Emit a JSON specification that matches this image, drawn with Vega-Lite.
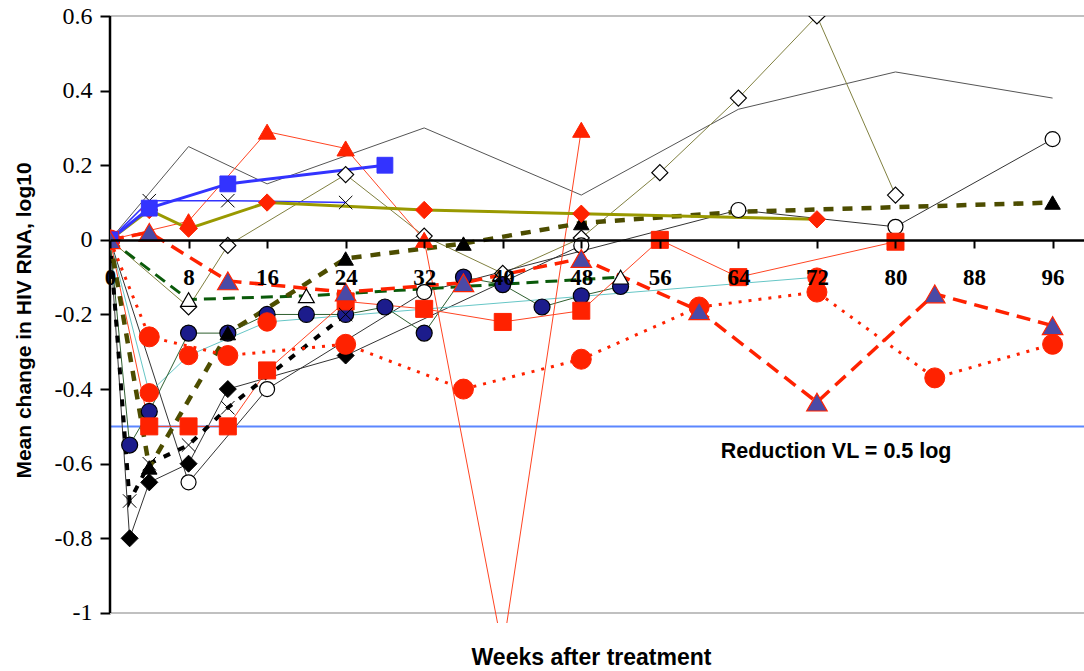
{
  "$schema": "https://vega.github.io/schema/vega-lite/v6.json",
  "width": 974,
  "height": 607,
  "autosize": "none",
  "padding": {"left": 110, "top": 16, "right": 0, "bottom": 48},
  "background": "white",
  "config": {"view": {"stroke": null}},
  "resolve": {"axis": {"x": "independent", "y": "independent"}},
  "datasets": {
    "series": [
      {"s":"grey","w":0,"v":0},{"s":"grey","w":8,"v":0.25},{"s":"grey","w":16,"v":0.15},{"s":"grey","w":32,"v":0.3},{"s":"grey","w":48,"v":0.12},{"s":"grey","w":64,"v":0.35},{"s":"grey","w":80,"v":0.45},{"s":"grey","w":96,"v":0.38},
      {"s":"odiam","w":0,"v":0},{"s":"odiam","w":8,"v":-0.18},{"s":"odiam","w":12,"v":-0.015},{"s":"odiam","w":24,"v":0.175},{"s":"odiam","w":32,"v":0.01},{"s":"odiam","w":40,"v":-0.09},{"s":"odiam","w":48,"v":0.005},{"s":"odiam","w":56,"v":0.18},{"s":"odiam","w":64,"v":0.38},{"s":"odiam","w":72,"v":0.6},{"s":"odiam","w":80,"v":0.12},
      {"s":"ocir","w":0,"v":0},{"s":"ocir","w":8,"v":-0.65},{"s":"ocir","w":16,"v":-0.4},{"s":"ocir","w":32,"v":-0.14},{"s":"ocir","w":64,"v":0.08},{"s":"ocir","w":80,"v":0.035},{"s":"ocir","w":96,"v":0.27},
      {"s":"kdia","w":0,"v":0},{"s":"kdia","w":2,"v":-0.8},{"s":"kdia","w":4,"v":-0.65},{"s":"kdia","w":8,"v":-0.6},{"s":"kdia","w":12,"v":-0.4},{"s":"kdia","w":24,"v":-0.31},{"s":"kdia","w":48,"v":-0.015},
      {"s":"cyan","w":0,"v":0},{"s":"cyan","w":4,"v":-0.41},{"s":"cyan","w":8,"v":-0.31},{"s":"cyan","w":16,"v":-0.22},{"s":"cyan","w":72,"v":-0.1},
      {"s":"navy","w":0,"v":0},{"s":"navy","w":2,"v":-0.55},{"s":"navy","w":4,"v":-0.46},{"s":"navy","w":8,"v":-0.25},{"s":"navy","w":12,"v":-0.25},{"s":"navy","w":16,"v":-0.2},{"s":"navy","w":20,"v":-0.2},{"s":"navy","w":24,"v":-0.2},{"s":"navy","w":28,"v":-0.18},{"s":"navy","w":32,"v":-0.25},{"s":"navy","w":36,"v":-0.1},{"s":"navy","w":40,"v":-0.12},{"s":"navy","w":44,"v":-0.18},{"s":"navy","w":48,"v":-0.15},{"s":"navy","w":52,"v":-0.125},
      {"s":"rsq","w":0,"v":0},{"s":"rsq","w":4,"v":-0.5},{"s":"rsq","w":8,"v":-0.5},{"s":"rsq","w":12,"v":-0.5},{"s":"rsq","w":16,"v":-0.35},{"s":"rsq","w":24,"v":-0.165},{"s":"rsq","w":32,"v":-0.185},{"s":"rsq","w":40,"v":-0.22},{"s":"rsq","w":48,"v":-0.19},{"s":"rsq","w":56,"v":0},{"s":"rsq","w":64,"v":-0.1},{"s":"rsq","w":80,"v":-0.005},
      {"s":"rtri","w":0,"v":0},{"s":"rtri","w":8,"v":0.05},{"s":"rtri","w":16,"v":0.29},{"s":"rtri","w":24,"v":0.245},{"s":"rtri","w":32,"v":0},{"s":"rtri","w":40,"v":-1.1},{"s":"rtri","w":48,"v":0.295},
      {"s":"bx","w":0,"v":0},{"s":"bx","w":4,"v":0.105},{"s":"bx","w":12,"v":0.105},{"s":"bx","w":24,"v":0.1},
      {"s":"gdash","w":0,"v":0},{"s":"gdash","w":8,"v":-0.16},{"s":"gdash","w":20,"v":-0.15},{"s":"gdash","w":52,"v":-0.1},
      {"s":"kdash","w":0,"v":0},{"s":"kdash","w":2,"v":-0.7},{"s":"kdash","w":4,"v":-0.6},{"s":"kdash","w":8,"v":-0.55},{"s":"kdash","w":12,"v":-0.45},{"s":"kdash","w":24,"v":-0.2},
      {"s":"odash","w":0,"v":0},{"s":"odash","w":4,"v":-0.61},{"s":"odash","w":12,"v":-0.25},{"s":"odash","w":24,"v":-0.05},{"s":"odash","w":36,"v":-0.01},{"s":"odash","w":48,"v":0.045},{"s":"odash","w":64,"v":0.075},{"s":"odash","w":96,"v":0.1},
      {"s":"rdot","w":0,"v":0},{"s":"rdot","w":4,"v":-0.26},{"s":"rdot","w":12,"v":-0.31},{"s":"rdot","w":24,"v":-0.28},{"s":"rdot","w":36,"v":-0.4},{"s":"rdot","w":48,"v":-0.32},{"s":"rdot","w":60,"v":-0.18},{"s":"rdot","w":72,"v":-0.14},{"s":"rdot","w":84,"v":-0.37},{"s":"rdot","w":96,"v":-0.28},
      {"s":"odia","w":0,"v":0},{"s":"odia","w":4,"v":0.08},{"s":"odia","w":8,"v":0.03},{"s":"odia","w":16,"v":0.1},{"s":"odia","w":32,"v":0.08},{"s":"odia","w":48,"v":0.07},{"s":"odia","w":72,"v":0.055},
      {"s":"bsq","w":0,"v":0},{"s":"bsq","w":4,"v":0.085},{"s":"bsq","w":12,"v":0.15},{"s":"bsq","w":28,"v":0.2},
      {"s":"ptri","w":0,"v":0},{"s":"ptri","w":4,"v":0.02},{"s":"ptri","w":12,"v":-0.11},{"s":"ptri","w":24,"v":-0.14},{"s":"ptri","w":36,"v":-0.115},{"s":"ptri","w":48,"v":-0.05},{"s":"ptri","w":60,"v":-0.19},{"s":"ptri","w":72,"v":-0.435},{"s":"ptri","w":84,"v":-0.145},{"s":"ptri","w":96,"v":-0.23}
    ],
    "refs": [{"g": 0.6}, {"g": -1}],
    "one": [{}]
  },
  "layer": [
    {
      "data": {"name": "refs"},
      "mark": {"type": "rule", "color": "#c0c0c0", "strokeWidth": 2},
      "encoding": {
        "y": {"field": "g", "type": "quantitative", "axis": null, "scale": {"domain": [-1.027, 0.6], "nice": false, "zero": false}}
      }
    },
    {
      "data": {"name": "one"},
      "mark": {"type": "rule", "color": "#5b86ff", "strokeWidth": 2},
      "encoding": {"y": {"datum": -0.5, "type": "quantitative", "axis": null}}
    },
    {
      "data": {"name": "one"},
      "mark": {"type": "rule", "color": "black", "strokeWidth": 2.5},
      "encoding": {
        "x": {"datum": 0, "type": "quantitative", "axis": null},
        "y": {"datum": 0.6, "type": "quantitative", "axis": null},
        "y2": {"datum": -1}
      }
    },
    {
      "data": {"name": "series"},
      "transform": [{"filter": "indexof(['grey','odiam','ocir','kdia','cyan','navy','rsq','rtri'], datum.s) >= 0"}],
      "mark": {"type": "line", "clip": true, "strokeWidth": 1},
      "encoding": {
        "x": {
          "field": "w", "type": "quantitative",
          "scale": {"domain": [0, 99.2], "nice": false, "zero": false},
          "axis": {
            "values": [0, 8, 16, 24, 32, 40, 48, 56, 64, 72, 80, 88, 96],
            "offset": -383,
            "zindex": 1,
            "grid": false,
            "domainColor": "black", "domainWidth": 2.5,
            "tickColor": "black", "tickWidth": 2, "tickSize": 8,
            "labelFont": "Liberation Serif", "labelFontWeight": "bold", "labelFontSize": 23, "labelColor": "black",
            "labelPadding": 18, "labelFlush": false, "labelOverlap": false,
            "title": "Weeks after treatment",
            "titleFont": "Liberation Sans", "titleFontSize": 23, "titleFontWeight": "bold", "titleColor": "black",
            "titleX": 481, "titleY": 417, "titleAlign": "center", "titleBaseline": "middle"
          }
        },
        "y": {
          "field": "v", "type": "quantitative",
          "scale": {"domain": [-1.027, 0.6], "nice": false, "zero": false},
          "axis": {
            "values": [0.6, 0.4, 0.2, 0, -0.2, -0.4, -0.6, -0.8, -1],
            "labelExpr": "'' + datum.value",
            "domain": false,
            "grid": false,
            "tickColor": "black", "tickWidth": 2, "tickSize": 10,
            "labelFont": "Liberation Serif", "labelFontSize": 24, "labelColor": "black", "labelPadding": 8,
            "labelFlush": false, "labelOverlap": false,
            "title": "Mean change in HIV RNA, log10",
            "titleFont": "Liberation Sans", "titleFontSize": 21, "titleFontWeight": "bold", "titleColor": "black",
            "titleAngle": 270, "titleX": -86, "titleY": 304, "titleAlign": "center", "titleBaseline": "middle"
          }
        },
        "color": {
          "field": "s", "type": "nominal", "legend": null,
          "scale": {
            "domain": ["grey","odiam","ocir","kdia","cyan","navy","rsq","rtri"],
            "range": ["#555555","#808040","#333333","#333333","#66c6c6","#2f5f2f","#ff4422","#ff4422"]
          }
        }
      }
    },
    {"data": {"name": "series"}, "transform": [{"filter": "datum.s === 'bx'"}],
     "mark": {"type": "line", "clip": true, "color": "#3333ff", "strokeWidth": 1.5},
     "encoding": {"x": {"field": "w", "type": "quantitative", "axis": null}, "y": {"field": "v", "type": "quantitative", "axis": null}}},
    {"data": {"name": "series"}, "transform": [{"filter": "datum.s === 'gdash'"}],
     "mark": {"type": "line", "clip": true, "color": "#0a5a0a", "strokeWidth": 3, "strokeDash": [12, 7]},
     "encoding": {"x": {"field": "w", "type": "quantitative", "axis": null}, "y": {"field": "v", "type": "quantitative", "axis": null}}},
    {"data": {"name": "series"}, "transform": [{"filter": "datum.s === 'kdash'"}],
     "mark": {"type": "line", "clip": true, "color": "#000000", "strokeWidth": 4, "strokeDash": [7, 9]},
     "encoding": {"x": {"field": "w", "type": "quantitative", "axis": null}, "y": {"field": "v", "type": "quantitative", "axis": null}}},
    {"data": {"name": "series"}, "transform": [{"filter": "datum.s === 'odash'"}],
     "mark": {"type": "line", "clip": true, "color": "#4d4d00", "strokeWidth": 4.5, "strokeDash": [10, 9]},
     "encoding": {"x": {"field": "w", "type": "quantitative", "axis": null}, "y": {"field": "v", "type": "quantitative", "axis": null}}},
    {"data": {"name": "series"}, "transform": [{"filter": "datum.s === 'rdot'"}],
     "mark": {"type": "line", "clip": true, "color": "#ff2200", "strokeWidth": 3, "strokeDash": [3, 7]},
     "encoding": {"x": {"field": "w", "type": "quantitative", "axis": null}, "y": {"field": "v", "type": "quantitative", "axis": null}}},
    {"data": {"name": "series"}, "transform": [{"filter": "datum.s === 'odia'"}],
     "mark": {"type": "line", "clip": true, "color": "#999900", "strokeWidth": 3},
     "encoding": {"x": {"field": "w", "type": "quantitative", "axis": null}, "y": {"field": "v", "type": "quantitative", "axis": null}}},
    {"data": {"name": "series"}, "transform": [{"filter": "datum.s === 'bsq'"}],
     "mark": {"type": "line", "clip": true, "color": "#3333ff", "strokeWidth": 3},
     "encoding": {"x": {"field": "w", "type": "quantitative", "axis": null}, "y": {"field": "v", "type": "quantitative", "axis": null}}},
    {"data": {"name": "series"}, "transform": [{"filter": "datum.s === 'ptri'"}],
     "mark": {"type": "line", "clip": true, "color": "#ff2200", "strokeWidth": 3.5, "strokeDash": [14, 8]},
     "encoding": {"x": {"field": "w", "type": "quantitative", "axis": null}, "y": {"field": "v", "type": "quantitative", "axis": null}}},

    {"data": {"name": "series"}, "transform": [{"filter": "datum.s === 'odiam'"}],
     "mark": {"type": "point", "clip": true, "shape": "diamond", "size": 256, "filled": true, "fill": "white", "stroke": "black", "strokeWidth": 1.2, "opacity": 1},
     "encoding": {"x": {"field": "w", "type": "quantitative", "axis": null}, "y": {"field": "v", "type": "quantitative", "axis": null}}},
    {"data": {"name": "series"}, "transform": [{"filter": "datum.s === 'ocir' || (datum.s === 'kdia' && datum.w === 48)"}],
     "mark": {"type": "point", "clip": true, "shape": "circle", "size": 225, "filled": true, "fill": "white", "stroke": "black", "strokeWidth": 1.2, "opacity": 1},
     "encoding": {"x": {"field": "w", "type": "quantitative", "axis": null}, "y": {"field": "v", "type": "quantitative", "axis": null}}},
    {"data": {"name": "series"}, "transform": [{"filter": "datum.s === 'kdia' && datum.w <= 24"}],
     "mark": {"type": "point", "clip": true, "shape": "diamond", "size": 290, "filled": true, "fill": "black", "stroke": "black", "strokeWidth": 1, "opacity": 1},
     "encoding": {"x": {"field": "w", "type": "quantitative", "axis": null}, "y": {"field": "v", "type": "quantitative", "axis": null}}},
    {"data": {"name": "series"}, "transform": [{"filter": "datum.s === 'navy'"}],
     "mark": {"type": "point", "clip": true, "shape": "circle", "size": 256, "filled": true, "fill": "#1c1c8c", "stroke": "black", "strokeWidth": 1.2, "opacity": 1},
     "encoding": {"x": {"field": "w", "type": "quantitative", "axis": null}, "y": {"field": "v", "type": "quantitative", "axis": null}}},
    {"data": {"name": "series"}, "transform": [{"filter": "datum.s === 'rsq'"}],
     "mark": {"type": "point", "clip": true, "shape": "square", "size": 289, "filled": true, "fill": "#ff2200", "stroke": "#ff2200", "strokeWidth": 1, "opacity": 1},
     "encoding": {"x": {"field": "w", "type": "quantitative", "axis": null}, "y": {"field": "v", "type": "quantitative", "axis": null}}},
    {"data": {"name": "series"}, "transform": [{"filter": "datum.s === 'rtri'"}],
     "mark": {"type": "point", "clip": true, "shape": "triangle-up", "size": 300, "filled": true, "fill": "#ff2200", "stroke": "#ff2200", "strokeWidth": 1, "opacity": 1},
     "encoding": {"x": {"field": "w", "type": "quantitative", "axis": null}, "y": {"field": "v", "type": "quantitative", "axis": null}}},
    {"data": {"name": "series"}, "transform": [{"filter": "datum.s === 'bx' || datum.s === 'kdash'"}],
     "mark": {"type": "point", "clip": true, "shape": "M-1,-1L1,1M-1,1L1,-1", "size": 180, "filled": false, "stroke": "black", "strokeWidth": 1, "opacity": 1},
     "encoding": {"x": {"field": "w", "type": "quantitative", "axis": null}, "y": {"field": "v", "type": "quantitative", "axis": null}}},
    {"data": {"name": "series"}, "transform": [{"filter": "datum.s === 'gdash'"}],
     "mark": {"type": "point", "clip": true, "shape": "triangle-up", "size": 250, "filled": true, "fill": "white", "stroke": "black", "strokeWidth": 1.2, "opacity": 1},
     "encoding": {"x": {"field": "w", "type": "quantitative", "axis": null}, "y": {"field": "v", "type": "quantitative", "axis": null}}},
    {"data": {"name": "series"}, "transform": [{"filter": "datum.s === 'odash' && datum.w !== 64"}],
     "mark": {"type": "point", "clip": true, "shape": "triangle-up", "size": 240, "filled": true, "fill": "black", "stroke": "black", "strokeWidth": 1, "opacity": 1},
     "encoding": {"x": {"field": "w", "type": "quantitative", "axis": null}, "y": {"field": "v", "type": "quantitative", "axis": null}}},
    {"data": {"name": "series"}, "transform": [{"filter": "datum.s === 'cyan'"}],
     "mark": {"type": "point", "clip": true, "shape": "circle", "size": 340, "filled": true, "fill": "#ff2200", "stroke": "#ff2200", "strokeWidth": 1, "opacity": 1},
     "encoding": {"x": {"field": "w", "type": "quantitative", "axis": null}, "y": {"field": "v", "type": "quantitative", "axis": null}}},
    {"data": {"name": "series"}, "transform": [{"filter": "datum.s === 'rdot'"}],
     "mark": {"type": "point", "clip": true, "shape": "circle", "size": 400, "filled": true, "fill": "#ff2200", "stroke": "#ff2200", "strokeWidth": 1, "opacity": 1},
     "encoding": {"x": {"field": "w", "type": "quantitative", "axis": null}, "y": {"field": "v", "type": "quantitative", "axis": null}}},
    {"data": {"name": "series"}, "transform": [{"filter": "datum.s === 'odia'"}],
     "mark": {"type": "point", "clip": true, "shape": "diamond", "size": 300, "filled": true, "fill": "#ff2200", "stroke": "#ff2200", "strokeWidth": 1, "opacity": 1},
     "encoding": {"x": {"field": "w", "type": "quantitative", "axis": null}, "y": {"field": "v", "type": "quantitative", "axis": null}}},
    {"data": {"name": "series"}, "transform": [{"filter": "datum.s === 'bsq'"}],
     "mark": {"type": "point", "clip": true, "shape": "square", "size": 250, "filled": true, "fill": "#3333ff", "stroke": "#3333ff", "strokeWidth": 1, "opacity": 1},
     "encoding": {"x": {"field": "w", "type": "quantitative", "axis": null}, "y": {"field": "v", "type": "quantitative", "axis": null}}},
    {"data": {"name": "series"}, "transform": [{"filter": "datum.s === 'ptri'"}],
     "mark": {"type": "point", "clip": true, "shape": "triangle-up", "size": 420, "filled": true, "fill": "#4a4aa6", "stroke": "#ff2200", "strokeWidth": 1.2, "opacity": 1},
     "encoding": {"x": {"field": "w", "type": "quantitative", "axis": null}, "y": {"field": "v", "type": "quantitative", "axis": null}}},
    {
      "data": {"name": "one"},
      "mark": {"type": "text", "font": "Liberation Sans", "fontWeight": "bold", "fontSize": 21.5, "align": "left", "baseline": "middle", "color": "black"},
      "encoding": {
        "x": {"datum": 62.2, "type": "quantitative", "axis": null},
        "y": {"datum": -0.568, "type": "quantitative", "axis": null},
        "text": {"value": "Reduction VL = 0.5 log"}
      }
    }
  ]
}
